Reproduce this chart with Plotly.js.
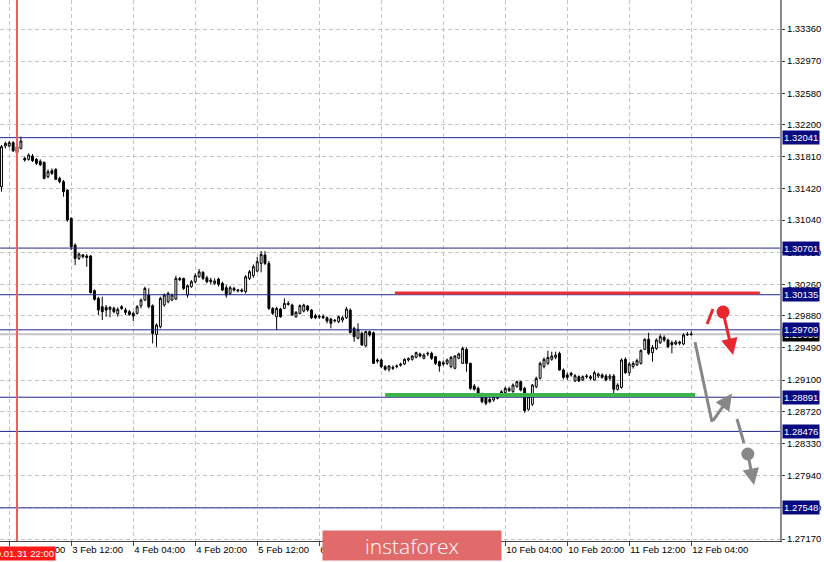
<!DOCTYPE html>
<html>
<head>
<meta charset="utf-8">
<script src="https://cdn.plot.ly/plotly-3.0.1.min.js"></script>
<style>html,body{margin:0;padding:0;background:#fff;}#chart{width:824px;height:562px;}</style>
</head>
<body>
<div id="chart"></div>
<script>
// ---- Hourly bars, 31 Jan 18:00 .. 12 Feb 04:00 ----
const opens = [
1.31446,1.31940,1.31940,1.31980,1.31932,1.31911,1.31790,1.31778,1.31818,1.31778,
1.31754,1.31742,1.31568,1.31640,1.31657,1.31547,1.31507,1.31406,1.31062,1.30738,
1.30576,1.30617,1.30605,1.30605,1.30184,1.30091,1.29990,1.29982,1.29957,1.29970,
1.29901,1.29989,1.29949,1.29929,1.29909,1.29909,1.30002,1.30070,1.30131,1.30002,
1.29654,1.29747,1.30010,1.30050,1.30070,1.30083,1.30333,1.30333,1.30131,1.30232,
1.30293,1.30354,1.30406,1.30341,1.30293,1.30273,1.30325,1.30273,1.30220,1.30151,
1.30212,1.30180,1.30192,1.30172,1.30333,1.30366,1.30422,1.30515,1.30617,1.30515,
1.29969,1.29868,1.29961,1.29969,1.30030,1.30010,1.29868,1.29909,1.29937,1.29998,
1.29949,1.29880,1.29864,1.29872,1.29856,1.29840,1.29816,1.29808,1.29828,1.29856,
1.29949,1.29727,1.29606,1.29666,1.29513,1.29687,1.29674,1.29343,1.29343,1.29262,
1.29230,1.29254,1.29262,1.29278,1.29294,1.29343,1.29351,1.29375,1.29416,1.29363,
1.29416,1.29424,1.29383,1.29322,1.29310,1.29302,1.29262,1.29242,1.29363,1.29302,
1.29472,1.29302,1.29027,1.28999,1.28918,1.28897,1.28865,1.28857,1.28877,1.28918,
1.28946,1.28970,1.28958,1.29019,1.29080,1.28999,1.28744,1.28806,1.29019,1.29120,
1.29262,1.29302,1.29351,1.29375,1.29423,1.29221,1.29160,1.29181,1.29088,1.29140,
1.29100,1.29140,1.29120,1.29100,1.29149,1.29161,1.29149,1.29120,1.29149,1.28987,
1.29011,1.29351,1.29189,1.29262,1.29282,1.29302,1.29472,1.29594,1.29432,1.29484,
1.29553,1.29618,1.29585,1.29553,1.29537,1.29545,1.29537,1.29650,1.29650
];
const highs = [
1.31952,1.31992,1.32000,1.32000,1.31952,1.32053,1.31810,1.31851,1.31843,1.31794,
1.31778,1.31750,1.31657,1.31669,1.31669,1.31568,1.31527,1.31414,1.31074,1.30758,
1.30645,1.30629,1.30629,1.30617,1.30200,1.30111,1.30111,1.30010,1.29998,1.29990,
1.29982,1.30010,1.29977,1.29949,1.29929,1.30010,1.30091,1.30232,1.30212,1.30018,
1.29787,1.30111,1.30151,1.30172,1.30151,1.30366,1.30350,1.30341,1.30261,1.30313,
1.30394,1.30447,1.30422,1.30366,1.30341,1.30333,1.30341,1.30293,1.30252,1.30244,
1.30232,1.30204,1.30212,1.30374,1.30435,1.30503,1.30596,1.30665,1.30665,1.30544,
1.29985,1.29989,1.29977,1.30091,1.30058,1.30026,1.29937,1.30018,1.30026,1.30010,
1.29961,1.29905,1.29896,1.29896,1.29872,1.29856,1.29840,1.29880,1.29880,1.29989,
1.29969,1.29747,1.29788,1.29687,1.29699,1.29699,1.29687,1.29363,1.29359,1.29282,
1.29282,1.29278,1.29286,1.29310,1.29363,1.29375,1.29403,1.29444,1.29432,1.29424,
1.29444,1.29444,1.29391,1.29335,1.29335,1.29359,1.29391,1.29403,1.29432,1.29505,
1.29496,1.29310,1.29051,1.29019,1.28946,1.28906,1.28897,1.28918,1.28930,1.28978,
1.29019,1.29019,1.29059,1.29092,1.29092,1.29019,1.28930,1.29051,1.29140,1.29322,
1.29375,1.29456,1.29444,1.29444,1.29444,1.29241,1.29189,1.29201,1.29173,1.29156,
1.29156,1.29173,1.29160,1.29213,1.29189,1.29181,1.29173,1.29173,1.29173,1.29060,
1.29363,1.29375,1.29318,1.29327,1.29359,1.29472,1.29606,1.29674,1.29525,1.29606,
1.29654,1.29642,1.29602,1.29577,1.29585,1.29577,1.29666,1.29683,1.29690
];
const lows = [
1.31385,1.31911,1.31924,1.31867,1.31851,1.31899,1.31750,1.31762,1.31746,1.31709,
1.31697,1.31535,1.31547,1.31588,1.31527,1.31487,1.31325,1.31021,1.30677,1.30495,
1.30556,1.30576,1.30475,1.30152,1.30063,1.29889,1.29828,1.29868,1.29860,1.29909,
1.29868,1.29949,1.29888,1.29880,1.29816,1.29896,1.29969,1.30058,1.29969,1.29544,
1.29504,1.29727,1.29989,1.30030,1.30058,1.30070,1.30301,1.30192,1.30099,1.30220,
1.30273,1.30341,1.30313,1.30273,1.30261,1.30252,1.30232,1.30180,1.30099,1.30131,
1.30172,1.30163,1.30163,1.30151,1.30313,1.30341,1.30406,1.30406,1.30495,1.29949,
1.29888,1.29706,1.29856,1.29961,1.30002,1.29876,1.29856,1.29896,1.29921,1.29929,
1.29840,1.29840,1.29840,1.29840,1.29787,1.29727,1.29799,1.29791,1.29799,1.29840,
1.29666,1.29565,1.29594,1.29513,1.29505,1.29626,1.29294,1.29302,1.29242,1.29213,
1.29201,1.29221,1.29242,1.29262,1.29282,1.29322,1.29335,1.29363,1.29375,1.29351,
1.29391,1.29343,1.29282,1.29201,1.29270,1.29282,1.29242,1.29230,1.29351,1.29294,
1.29201,1.28979,1.28971,1.28918,1.28817,1.28792,1.28817,1.28837,1.28865,1.28906,
1.28930,1.28954,1.28946,1.29007,1.28962,1.28703,1.28728,1.28784,1.28999,1.29108,
1.29241,1.29282,1.29334,1.29351,1.29213,1.29108,1.29100,1.29140,1.29075,1.29075,
1.29092,1.29116,1.29100,1.29092,1.29124,1.29116,1.29084,1.29092,1.28930,1.28971,
1.28995,1.29173,1.29149,1.29238,1.29270,1.29286,1.29464,1.29403,1.29322,1.29464,
1.29537,1.29561,1.29488,1.29424,1.29521,1.29521,1.29521,1.29634,1.29640
];
const closes = [
1.31932,1.31972,1.31980,1.31883,1.31859,1.32000,1.31770,1.31831,1.31762,1.31730,
1.31713,1.31547,1.31628,1.31608,1.31535,1.31507,1.31385,1.31042,1.30718,1.30576,
1.30629,1.30597,1.30588,1.30160,1.30079,1.29949,1.29929,1.29949,1.29982,1.29929,
1.29957,1.29969,1.29921,1.29896,1.29876,1.29989,1.30070,1.30212,1.29989,1.29666,
1.29767,1.30091,1.30131,1.30151,1.30131,1.30333,1.30317,1.30212,1.30244,1.30293,
1.30366,1.30414,1.30333,1.30293,1.30313,1.30301,1.30261,1.30192,1.30131,1.30220,
1.30192,1.30192,1.30180,1.30354,1.30414,1.30475,1.30536,1.30625,1.30515,1.29969,
1.29909,1.29969,1.29868,1.30030,1.30018,1.29888,1.29921,1.30002,1.30010,1.29949,
1.29856,1.29856,1.29872,1.29856,1.29816,1.29787,1.29824,1.29868,1.29856,1.29961,
1.29678,1.29625,1.29715,1.29525,1.29687,1.29646,1.29302,1.29331,1.29262,1.29230,
1.29270,1.29242,1.29270,1.29294,1.29351,1.29359,1.29391,1.29432,1.29391,1.29403,
1.29424,1.29363,1.29302,1.29270,1.29294,1.29343,1.29375,1.29391,1.29416,1.29484,
1.29302,1.28999,1.28987,1.28938,1.28837,1.28817,1.28837,1.28897,1.28906,1.28958,
1.28999,1.28995,1.29039,1.29080,1.28978,1.28728,1.28897,1.29039,1.29120,1.29302,
1.29351,1.29375,1.29391,1.29403,1.29221,1.29132,1.29132,1.29160,1.29152,1.29088,
1.29140,1.29148,1.29140,1.29189,1.29173,1.29132,1.29100,1.29149,1.28987,1.29039,
1.29343,1.29189,1.29294,1.29302,1.29335,1.29456,1.29594,1.29424,1.29496,1.29585,
1.29626,1.29585,1.29505,1.29529,1.29561,1.29561,1.29646,1.29654,1.29656
];

// ---- axis ticks ----
const xTickBars   = [2, 18, 34, 50, 66, 82, 98, 114, 130, 146, 162, 178];
const xTickLabels = ['31 Jan 20:00','3 Feb 12:00','4 Feb 04:00','4 Feb 20:00','5 Feb 12:00',
                     '6 Feb 04:00','6 Feb 20:00','7 Feb 12:00','10 Feb 04:00','10 Feb 20:00',
                     '11 Feb 12:00','12 Feb 04:00'];
const yTickValues = [1.33360,1.32970,1.32580,1.32200,1.31810,1.31420,1.31040,1.30650,1.30260,
                     1.29880,1.29490,1.29100,1.28720,1.28330,1.27940,1.27550,1.27170];

// ---- levels & markup ----
const levelPrices = [1.32041, 1.30701, 1.30135, 1.29709, 1.28891, 1.28476, 1.27548];
const markedBar   = 4;                 // 2020.01.31 22:00
const markedLabel = '2020.01.31 22:00';
const resistance  = [101.5, 195.7, 1.30155];   // from bar, to bar, price
const support     = [99.0, 179.0, 1.28918];
const redTick     = [182.1, 1.29779, 183.6, 1.29962];
const redArrow    = [186.2, 1.29925, 188.8, 1.29403];   // dot -> tip
const grayPath    = [178.97, 1.29560, 183.35, 1.28590, 188.5, 1.28936];
const grayTick    = [189.8, 1.28627, 191.6, 1.28335];
const grayArrow   = [192.6, 1.28202, 194.2, 1.27825];

const bars = closes.map((_, i) => i);
const lastClose = closes[closes.length - 1];

const trace = {
  type: 'candlestick',
  x: bars, open: opens, high: highs, low: lows, close: closes,
  increasing: {fillcolor: '#ffffff', line: {color: '#000000', width: 1}},
  decreasing: {fillcolor: '#000000', line: {color: '#000000', width: 1}},
  whiskerwidth: 0,
  hoverinfo: 'skip'
};

const shapes = [];
const annotations = [];

shapes.push({type:'line', xref:'paper', x0:0, x1:1, yref:'y', y0:lastClose, y1:lastClose,
  line:{color:'#c4c4c4', width:2}, layer:'below'});
levelPrices.forEach(p => shapes.push({type:'line', xref:'paper', x0:0, x1:1, yref:'y', y0:p, y1:p,
  line:{color:'#25258f', width:1}}));
shapes.push({type:'line', xref:'x', x0:markedBar, x1:markedBar, yref:'paper', y0:0, y1:1,
  line:{color:'#f25c5c', width:2}});
shapes.push({type:'line', xref:'x', x0:resistance[0], x1:resistance[1], yref:'y', y0:resistance[2], y1:resistance[2],
  line:{color:'#ea2f33', width:3}});
shapes.push({type:'line', xref:'x', x0:support[0], x1:support[1], yref:'y', y0:support[2], y1:support[2],
  line:{color:'#3bb54a', width:4}});
shapes.push({type:'line', xref:'x', yref:'y', x0:redTick[0], y0:redTick[1], x1:redTick[2], y1:redTick[3],
  line:{color:'#e8262d', width:3}});
shapes.push({type:'circle', xref:'x', yref:'y', xsizemode:'pixel', ysizemode:'pixel',
  xanchor:redArrow[0], yanchor:redArrow[1], x0:-6.5, x1:6.5, y0:-6.5, y1:6.5,
  fillcolor:'#e8262d', line:{width:0}});
shapes.push({type:'line', xref:'x', yref:'y', x0:grayPath[0], y0:grayPath[1], x1:grayPath[2], y1:grayPath[3],
  line:{color:'#878787', width:3}});
shapes.push({type:'line', xref:'x', yref:'y', x0:grayTick[0], y0:grayTick[1], x1:grayTick[2], y1:grayTick[3],
  line:{color:'#878787', width:3}});
shapes.push({type:'circle', xref:'x', yref:'y', xsizemode:'pixel', ysizemode:'pixel',
  xanchor:grayArrow[0], yanchor:grayArrow[1], x0:-6.5, x1:6.5, y0:-6.5, y1:6.5,
  fillcolor:'#878787', line:{width:0}});

function arrow(x0, y0, x1, y1, color) {
  return {xref:'x', yref:'y', axref:'x', ayref:'y', x:x1, y:y1, ax:x0, ay:y0, text:'',
    showarrow:true, arrowhead:2, arrowsize:1.1, arrowwidth:3, arrowcolor:color};
}
annotations.push(arrow(redArrow[0], redArrow[1], redArrow[2], redArrow[3], '#e8262d'));
annotations.push(arrow(grayPath[2], grayPath[3], grayPath[4], grayPath[5], '#878787'));
annotations.push(arrow(grayArrow[0], grayArrow[1], grayArrow[2], grayArrow[3], '#878787'));

const lblFont = {family:'Liberation Sans, Arial, sans-serif', size:9.5, color:'#ffffff'};
annotations.push({xref:'paper', x:1, xanchor:'left', xshift:2, yref:'y', y:lastClose, yanchor:'middle',
  text:lastClose.toFixed(5), showarrow:false, bgcolor:'#000000', borderpad:1, font:lblFont});
levelPrices.forEach(p => annotations.push({xref:'paper', x:1, xanchor:'left', xshift:2, yref:'y', y:p,
  yanchor:'middle', text:p.toFixed(5), showarrow:false, bgcolor:'#0a0a80', borderpad:1, font:lblFont}));

annotations.push({xref:'x', x:markedBar, xanchor:'center', yref:'paper', y:0, yanchor:'top', yshift:-5,
  text:markedLabel, showarrow:false, bgcolor:'#ff1a1a', borderpad:1,
  font:{family:'Liberation Sans, Arial, sans-serif', size:9.5, color:'#ffffff'}});

annotations.push({xref:'paper', x:0.5282, xanchor:'center', yref:'paper', y:0, yanchor:'middle', yshift:-4.5,
  text:'instaforex', showarrow:false, bgcolor:'#e16a6a', width:178, height:29, borderpad:0,
  font:{family:'Open Sans, sans-serif', size:21, color:'#ffffff', weight:300}});

const axisFont = {family:'Liberation Sans, Arial, sans-serif', size:9.5, color:'#000000'};

const layout = {
  width: 824, height: 562,
  margin: {l:0, r:44, t:0, b:21, pad:0},
  paper_bgcolor:'#ffffff', plot_bgcolor:'#ffffff',
  showlegend:false, hovermode:false, dragmode:false,
  xaxis: {
    range:[-0.39, 200.9], rangeslider:{visible:false},
    tickmode:'array', tickvals:xTickBars, ticktext:xTickLabels,
    ticklabelposition:'outside right', tickangle:0, automargin:false,
    ticks:'outside', ticklen:4, tickcolor:'#444',
    showgrid:true, gridcolor:'#c4c4c4', griddash:'4px,3px', gridwidth:1,
    showline:true, linecolor:'#444', linewidth:1, zeroline:false,
    tickfont:axisFont, fixedrange:true
  },
  yaxis: {
    side:'right', range:[1.27146, 1.33712], automargin:false,
    tickmode:'array', tickvals:yTickValues, ticktext:yTickValues.map(v => v.toFixed(5)),
    ticks:'outside', ticklen:3, tickcolor:'#444',
    showgrid:true, gridcolor:'#c4c4c4', griddash:'4px,3px', gridwidth:1,
    showline:true, linecolor:'#8a8a8a', linewidth:2, zeroline:false,
    tickfont:axisFont, fixedrange:true
  },
  shapes: shapes,
  annotations: annotations
};

Plotly.newPlot('chart', [trace], layout, {displayModeBar:false, staticPlot:true});
</script>
</body>
</html>
